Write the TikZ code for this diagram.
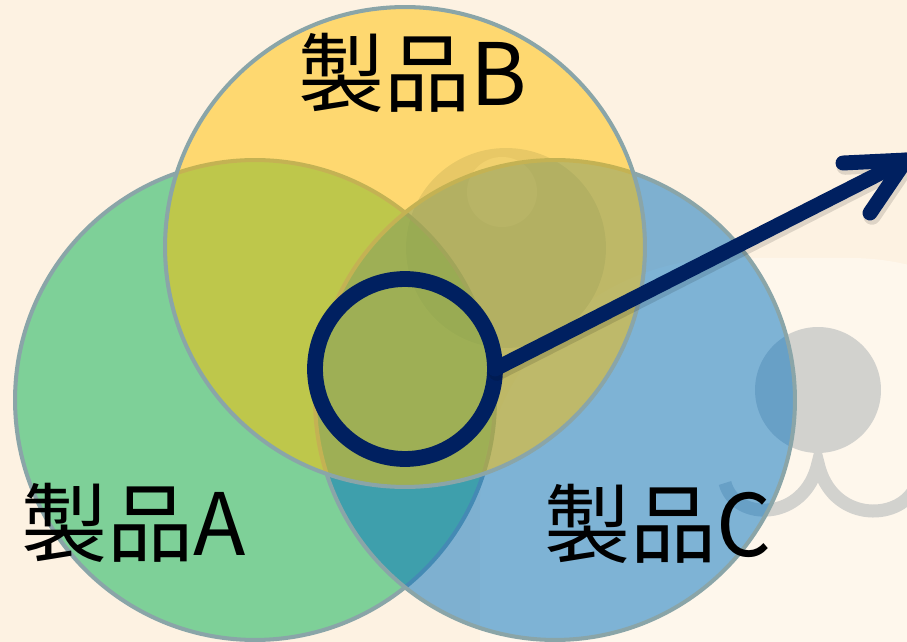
\documentclass[tikz,border=0pt]{standalone}
\usepackage{fontspec}
\newfontfamily\jp{Noto Sans CJK JP}
\definecolor{bgcream}{HTML}{FDF2E2}
\definecolor{facecream}{HTML}{FEF7EC}
\definecolor{toongray}{HTML}{D2D2CE}
\definecolor{toonlight}{HTML}{E4E4DE}
\definecolor{rimgray}{HTML}{8AA5A8}
\definecolor{setA}{HTML}{00B050}
\definecolor{setB}{HTML}{FFC000}
\definecolor{setC}{HTML}{0070C0}
\definecolor{navy}{HTML}{002060}
\tikzset{
  prodset/.style={circle, draw=rimgray, line width=2.3pt, fill opacity=0.5,
    minimum size=9.6cm, inner sep=0pt, outer sep=0pt},
  prodname/.style={font=\jp\fontsize{49}{50}\selectfont, inner sep=0pt},
  ring/.style={circle, draw=navy, line width=9pt, minimum size=3.6cm,
    inner sep=0pt, outer sep=0pt},
  pointer/.style={draw=navy, line width=8.5pt, line cap=round, line join=round},
}
\begin{document}
\begin{tikzpicture}[x=0.02cm,y=-0.02cm]
   \useasboundingbox (0,0) rectangle (907,642);
   \clip (0,0) rectangle (907,642);
   \fill[bgcream] (0,0) rectangle (907,642);
   % faint figure behind the sets
   \fill[facecream, rounded corners=5cm] (480,258) rectangle (1100,900);
   \fill[toongray] (506,248) circle (2cm);
   \fill[toonlight] (502,192) circle (0.7cm);
   \fill[toongray] (818,390) circle (1.26cm);
   \draw[toongray, line width=7.4pt] (725,483) .. controls (735,522) and (805,522) .. (818,463)
        .. controls (831,522) and (898,522) .. (915,488);
   % the three sets
   \node[prodset, fill=setA] (setA) at (255,400) {};
   \node[prodset, fill=setC] (setC) at (555,400) {};
   \node[prodset, fill=setB] (setB) at (405,247) {};
   \node[prodname] (nameA) at (134,523) {製品A};
   \node[prodname] (nameB) at (413,73) {製品B};
   \node[prodname] (nameC) at (658,524) {製品C};
   % focus and pointer
   \node[ring] (focus) at (405,369) {};
   \coordinate (tip) at (906,160);
   \coordinate (barbup) at (843,163);
   \coordinate (barbdown) at (870,213);
   \draw[pointer, draw=black, opacity=0.12, line width=10pt]
        ([shift={(2,3)}]focus.east) -- ([shift={(2,3)}]tip)
        ([shift={(2,3)}]barbup) -- ([shift={(2,3)}]tip) -- ([shift={(2,3)}]barbdown);
   \draw[pointer] (focus.east) -- (tip);
   \draw[pointer] (barbup) -- (tip) -- (barbdown);
\end{tikzpicture}
\end{document}
